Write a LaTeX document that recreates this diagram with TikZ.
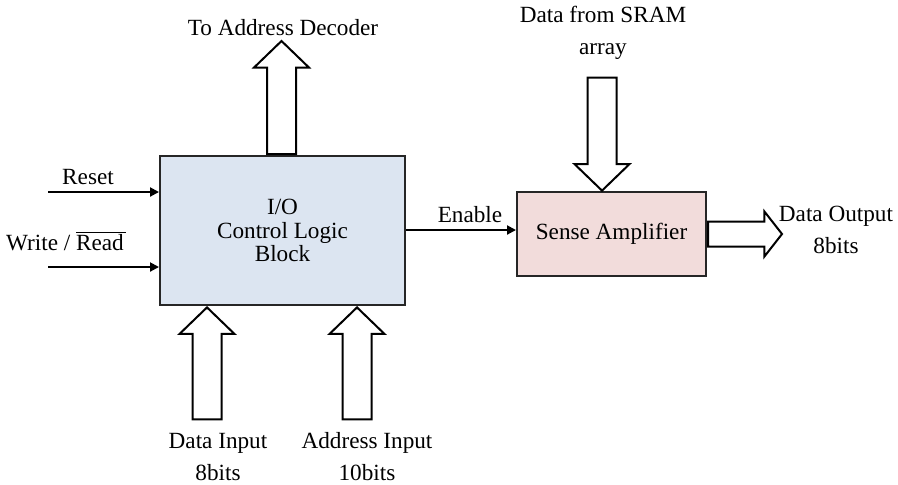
\documentclass[tikz,border=0pt]{standalone}
\usepackage{fontspec}
\setmainfont{Liberation Serif}
\usetikzlibrary{positioning, arrows.meta, shapes.arrows}

\definecolor{ioblue}{RGB}{220,229,241}
\definecolor{sapink}{RGB}{242,220,219}

\begin{document}
\begin{tikzpicture}[
    x=0.5pt, y=-0.5pt,
    font=\fontsize{11.6}{13}\selectfont,
    block/.style={rectangle, draw=black!85, line width=1pt, align=center},
    busarrow/.style={single arrow, draw=black, line width=1pt, fill=white,
                     inner xsep=0pt, inner ysep=6.75pt, minimum width=0pt,
                     single arrow head extend=6.5pt, single arrow tip angle=92},
    signal/.style={-{Triangle[length=4.5pt, width=4.5pt]}, line width=1pt},
    lbl/.style={align=center, inner sep=0pt}
]
\useasboundingbox (0,0) rectangle (898,484);

% --- Bloques ---
\node[block, fill=ioblue, minimum width=122.5pt, minimum height=74.5pt,
      font=\fontsize{11.6}{11.8}\selectfont] (io) at (282.5,230.5)
      {I/O\\Control Logic\\Block};
\node[block, fill=sapink, minimum width=94.5pt, minimum height=42pt] (sa) at (611.5,234)
      {Sense Amplifier};

% --- Flechas de bus ---
\node[busarrow, rotate=90, minimum height=56.5pt, anchor=tail] (toaddr) at ([xshift=-0.5pt]io.north) {};
\node[busarrow, rotate=-90, minimum height=56.5pt, anchor=tip] (sram) at (602,192) {};
\node[busarrow, rotate=90, minimum height=56pt, anchor=tip] (datain) at ([xshift=-37.75pt]io.south) {};
\node[busarrow, rotate=90, minimum height=56pt, anchor=tip] (addrin) at ([xshift=37.25pt]io.south) {};
\node[busarrow, inner ysep=5.75pt, single arrow head extend=5pt, single arrow tip angle=104,
      minimum height=37pt, anchor=tail] (dataout) at (sa.east) {};

% --- Etiquetas ---
\node[lbl] (toaddrlbl) at (283,28) {To Address Decoder};
\node[lbl] (sramlbl) at (603,33) {Data from SRAM\\[3pt]array};
\node[lbl] (datainlbl) at (218,457) {Data Input\\[3pt]8bits};
\node[lbl] (addrinlbl) at (367,457) {Address Input\\[3pt]10bits};
\node[lbl] (dataoutlbl) at (836,230) {Data Output\\[3pt]8bits};
\node[lbl] (resetlbl) at (88,177) {Reset};
\node[lbl] (wrlbl) at (66,241) {Write / $\overline{\mbox{Read\hspace{1pt}}}$};
\node[lbl] (enlbl) at (470,215) {Enable};

% --- Señales ---
\coordinate (rst) at (48,192);
\coordinate (wr) at (48,267);
\draw[signal] (rst) -- (rst -| io.west);
\draw[signal] (wr) -- (wr -| io.west);
\draw[signal] ([yshift=0.25pt]io.east) -- ([yshift=0.25pt]io.east -| sa.west);
\end{tikzpicture}
\end{document}
